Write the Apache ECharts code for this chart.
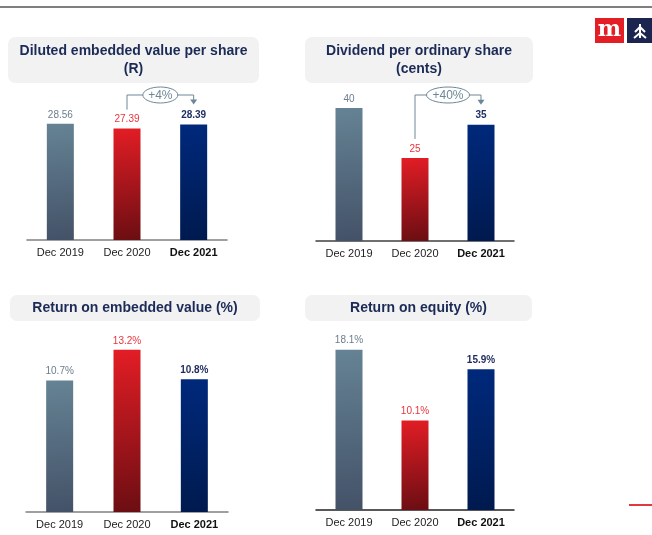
<!DOCTYPE html>
<html>
<head>
<meta charset="utf-8">
<script src="https://cdn.jsdelivr.net/npm/echarts@6/dist/echarts.min.js"></script>
<style>html,body{margin:0;padding:0;background:#fff}#c{width:652px;height:535px}</style>
</head>
<body>
<div id="c"></div>
<script>
const categories = ['Dec 2019', 'Dec 2020', 'Dec 2021'];
const evPerShare = [28.56, 27.39, 28.39];
const dividend = [40, 25, 35];
const returnOnEV = [10.7, 13.2, 10.8];
const returnOnEquity = [18.1, 10.1, 15.9];
const titles = [
  'Diluted embedded value per share\n(R)',
  'Dividend per ordinary share\n(cents)',
  'Return on embedded value (%)',
  'Return on equity (%)'
];
const growthLabels = ['+4%', '+40%'];

const FONT = '"Liberation Sans", Arial, sans-serif';
const chart = echarts.init(document.getElementById('c'));

const grads = [
  new echarts.graphic.LinearGradient(0, 0, 0.35, 1, [{offset: 0, color: '#658394'}, {offset: 1, color: '#445268'}]),
  new echarts.graphic.LinearGradient(0, 0, 0.35, 1, [{offset: 0, color: '#e31d25'}, {offset: 1, color: '#6c0e13'}]),
  new echarts.graphic.LinearGradient(0, 0, 0.35, 1, [{offset: 0, color: '#00297c'}, {offset: 1, color: '#001a4f'}])
];
const labelColors = ['#6b7d8e', '#e8343c', '#1d2b5e'];

const grids = [
  {left: 27, width: 200, top: 118, height: 122},
  {left: 316, width: 198, top: 108, height: 133},
  {left: 26, width: 202, top: 340, height: 172},
  {left: 316, width: 198, top: 324, height: 186}
];
const maxes = [30, 40, 14, 21];
const fmts = [v => v.toFixed(2), v => String(v), v => v.toFixed(1) + '%', v => v.toFixed(1) + '%'];
const datasets = [evPerShare, dividend, returnOnEV, returnOnEquity];
const axisColors = ['#808080', '#404040', '#808080', '#222222'];

const series = datasets.map((arr, gi) => ({
  type: 'bar',
  xAxisIndex: gi,
  yAxisIndex: gi,
  barWidth: 27,
  silent: true,
  data: arr.map((v, i) => ({
    value: v,
    itemStyle: {color: grads[i]},
    label: {color: labelColors[i], fontWeight: i === 2 ? 'bold' : 'normal'}
  })),
  label: {
    show: true,
    position: 'top',
    distance: 4,
    fontSize: 10,
    fontFamily: FONT,
    formatter: p => fmts[gi](p.value)
  }
}));

chart.setOption({
  animation: false,
  grid: grids,
  xAxis: grids.map((g, gi) => ({
    type: 'category',
    gridIndex: gi,
    data: categories,
    axisTick: {show: false},
    axisLine: {lineStyle: {color: axisColors[gi], width: 1.5}},
    axisLabel: {
      interval: 0,
      hideOverlap: false,
      margin: 7,
      fontSize: 11,
      fontFamily: FONT,
      color: '#222',
      formatter: (v, i) => i === 2 ? '{b|' + v + '}' : v,
      rich: {b: {fontWeight: 'bold', fontSize: 11, fontFamily: FONT, color: '#111'}}
    }
  })),
  yAxis: grids.map((g, gi) => ({
    type: 'value', gridIndex: gi, min: 0, max: maxes[gi], show: false, splitLine: {show: false}
  })),
  series: series
});

// Static decorations
const elements = [];
elements.push({type: 'line', shape: {x1: 0, y1: 7, x2: 652, y2: 7}, style: {stroke: '#555', lineWidth: 1.5}});
elements.push({type: 'line', shape: {x1: 629, y1: 505, x2: 652, y2: 505}, style: {stroke: '#e03a3e', lineWidth: 2}});
// logo
elements.push({type: 'rect', shape: {x: 595, y: 18, width: 29, height: 25}, style: {fill: '#e31e24'}});
elements.push({type: 'text', x: 609.5, y: 30, style: {text: 'm', fill: '#fff', font: 'bold 22px "DejaVu Serif", serif', align: 'center', verticalAlign: 'middle'}});
elements.push({type: 'rect', shape: {x: 627, y: 18, width: 30, height: 25}, style: {fill: '#1c2450'}});
elements.push({type: 'polyline', shape: {points: [[640, 24], [640, 38]]}, style: {stroke: '#fff', lineWidth: 2, fill: null}});
elements.push({type: 'polyline', shape: {points: [[635, 32], [640, 27], [645, 32]]}, style: {stroke: '#fff', lineWidth: 2, fill: null}});
elements.push({type: 'polyline', shape: {points: [[634, 38], [640, 33], [646, 38]]}, style: {stroke: '#fff', lineWidth: 2, fill: null}});

// title boxes
const boxes = [
  {x: 8, y: 37, w: 251, h: 46},
  {x: 305, y: 37, w: 228, h: 46},
  {x: 10, y: 295, w: 250, h: 26},
  {x: 305, y: 295, w: 227, h: 26}
];
boxes.forEach((b, i) => {
  elements.push({type: 'rect', shape: {x: b.x, y: b.y, width: b.w, height: b.h, r: 7}, style: {fill: '#f2f2f2'}});
  elements.push({type: 'text', x: b.x + b.w / 2, y: b.y + b.h / 2 + 0.5, style: {
    text: titles[i], fill: '#1b2a56', font: 'bold 14px ' + FONT, align: 'center', verticalAlign: 'middle', lineHeight: 18
  }});
});

// growth brackets, positioned from the chart's own scales
const annColor = '#6d8797';
[0, 1].forEach(gi => {
  const arr = datasets[gi];
  const x1 = chart.convertToPixel({xAxisIndex: gi}, categories[1]);
  const x2 = chart.convertToPixel({xAxisIndex: gi}, categories[2]);
  const yTop1 = chart.convertToPixel({yAxisIndex: gi}, arr[1]);
  const yTop2 = chart.convertToPixel({yAxisIndex: gi}, arr[2]);
  const yh = 95;
  const yStart = yTop1 - 19;
  const yEnd = yTop2 - 20;
  elements.push({type: 'polyline', shape: {points: [[x1, yStart], [x1, yh], [x2, yh], [x2, yEnd - 4]]}, style: {stroke: annColor, lineWidth: 1, fill: null}});
  elements.push({type: 'polygon', shape: {points: [[x2 - 3.5, yEnd - 5], [x2 + 3.5, yEnd - 5], [x2, yEnd]]}, style: {fill: annColor}});
  const cx = (x1 + x2) / 2;
  const rx = gi === 0 ? 17.5 : 21.5;
  elements.push({type: 'ellipse', shape: {cx: cx, cy: yh, rx: rx, ry: 8}, style: {fill: '#fff', stroke: annColor, lineWidth: 1}});
  elements.push({type: 'text', x: cx, y: yh + 0.5, style: {text: growthLabels[gi], fill: annColor, font: '12px ' + FONT, align: 'center', verticalAlign: 'middle'}});
});

chart.setOption({graphic: {elements: elements}});
</script>
</body>
</html>
